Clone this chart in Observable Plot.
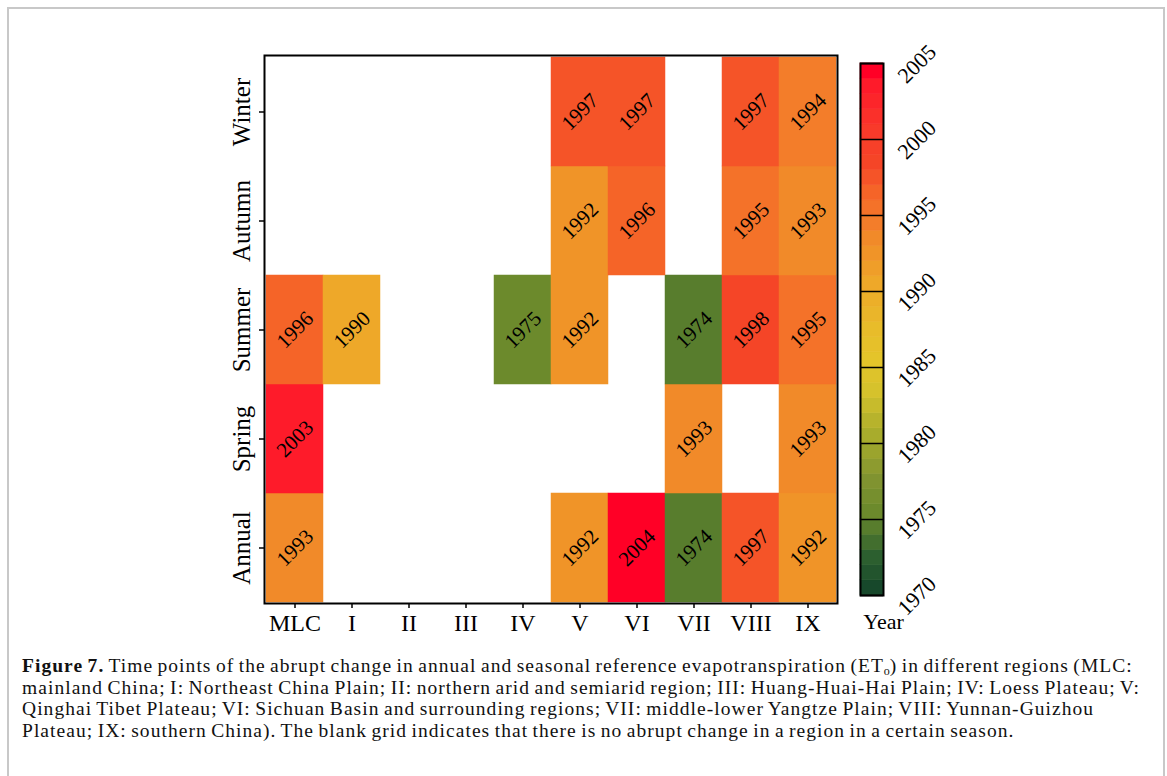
<!DOCTYPE html>
<html>
<head>
<meta charset="utf-8">
<script src="https://cdn.jsdelivr.net/npm/d3@7"></script>
<script src="https://cdn.jsdelivr.net/npm/@observablehq/plot@0.6"></script>
<style>
  html, body { margin: 0; padding: 0; background: #fff; }
  body { width: 1167px; height: 776px; position: relative; overflow: hidden; font-family: "Liberation Serif", serif; }
  #border { position: absolute; left: 7px; top: 7px; width: 1154px; height: 820px; border: 2px solid #c8c8c8; border-bottom: none; }
  #main { position: absolute; left: 0; top: 0; }
  #cbar { position: absolute; left: 840px; top: 0; }
  #caption { position: absolute; left: 22px; top: 655px; font-size: 19.5px; line-height: 21.7px; color: #111; white-space: nowrap; letter-spacing: 1.05px; word-spacing: -1.5px; }
  #caption sub { font-size: 12px; line-height: 0; vertical-align: -3px; letter-spacing: 0; }
</style>
</head>
<body>
<div id="border"></div>
<div id="main"></div>
<div id="cbar"></div>
<div id="caption"><b>Figure 7.</b> Time points of the abrupt change in annual and seasonal reference evapotranspiration (ET<sub>o</sub>) in different regions (MLC:<br>mainland China; I: Northeast China Plain; II: northern arid and semiarid region; III: Huang-Huai-Hai Plain; IV: Loess Plateau; V:<br>Qinghai Tibet Plateau; VI: Sichuan Basin and surrounding regions; VII: middle-lower Yangtze Plain; VIII: Yunnan-Guizhou<br>Plateau; IX: southern China). The blank grid indicates that there is no abrupt change in a region in a certain season.</div>
<script>
// ---- data ----
const regions = ["MLC", "I", "II", "III", "IV", "V", "VI", "VII", "VIII", "IX"];
const seasons = ["Annual", "Spring", "Summer", "Autumn", "Winter"];
const annual = [1993, null, null, null, null, 1992, 2004, 1974, 1997, 1992];
const spring = [2003, null, null, null, null, null, null, 1993, null, 1993];
const summer = [1996, 1990, null, null, 1975, 1992, null, 1974, 1998, 1995];
const autumn = [null, null, null, null, null, 1992, 1996, null, 1995, 1993];
const winter = [null, null, null, null, null, 1997, 1997, null, 1997, 1994];
const colorbarTicks = [1970, 1975, 1980, 1985, 1990, 1995, 2000, 2005];
// colormap stops (year -> colour)
const colorStops = [1970, 1972, 1974, 1975, 1977, 1980, 1983, 1985, 1987, 1990, 1992, 1993, 1994, 1995, 1996, 1997, 1998, 2000, 2003, 2004];
const colorRange = ["#17482b", "#2c5f2f", "#587d2d", "#6c8a2c", "#809330", "#a8ac2c", "#d6c22c", "#e4c42a", "#e8bc2a", "#eea829", "#f09428", "#f18a29", "#f37d2a", "#f47229", "#f56428", "#f55428", "#f54527", "#f83a2a", "#fe1b2a", "#ff0026"];

const seriesBySeason = {Annual: annual, Spring: spring, Summer: summer, Autumn: autumn, Winter: winter};
const cells = [];
for (const s of seasons) {
  seriesBySeason[s].forEach((v, i) => { if (v != null) cells.push({region: regions[i], season: s, year: v}); });
}
const colorOpts = {type: "linear", domain: colorStops, range: colorRange, interpolate: "rgb", clamp: true};

const font = "'Liberation Serif', 'Times New Roman', serif";

const main = Plot.plot({
  width: 900,
  height: 643,
  marginLeft: 264,
  marginRight: 63,
  marginTop: 55,
  marginBottom: 40,
  style: {fontFamily: font, fontSize: "24px", color: "#000", background: "transparent"},
  x: {type: "band", domain: regions, padding: 0, label: null},
  y: {type: "band", domain: seasons.slice().reverse(), padding: 0, label: null},
  color: colorOpts,
  marks: [
    Plot.cell(cells, {x: "region", y: "season", fill: "year", stroke: "year", strokeWidth: 0.5, inset: 0}),
    Plot.text(cells, {x: "region", y: "season", text: d => String(d.year), rotate: -45, fontSize: 21, fill: "#000", fontFamily: font}),
    Plot.axisX({anchor: "bottom", tickSize: 5, tickPadding: 5, fontSize: 24, stroke: "#000", strokeWidth: 1.5}),
    Plot.axisY({anchor: "left", tickSize: 5, tickPadding: 10, tickRotate: -90, fontSize: 25, stroke: "#000", strokeWidth: 1.5}),
    Plot.frame({stroke: "#000", strokeWidth: 2})
  ]
});
document.getElementById("main").appendChild(main);

const years = d3.range(1970, 2005);
const cbar = Plot.plot({
  width: 140,
  height: 640,
  marginLeft: 20,
  marginRight: 97,
  marginTop: 63,
  marginBottom: 45,
  style: {fontFamily: font, fontSize: "22px", color: "#000", background: "transparent"},
  x: {domain: [0, 1], axis: null},
  y: {domain: [1970, 2005], axis: null},
  color: colorOpts,
  marks: [
    Plot.rect(years, {x1: 0, x2: 1, y1: d => d, y2: d => d + 1, fill: d => d, stroke: d => d, strokeWidth: 0.6}),
    Plot.tickY(colorbarTicks, {y: d => d, x1: 1, x2: 1.26, stroke: "#000", strokeWidth: 1.5}),
    Plot.text(colorbarTicks, {y: d => d, x: 1, text: d => String(d), rotate: -45, textAnchor: "start", dx: 18, dy: 16, fontSize: 22, fill: "#000", fontFamily: font}),
    Plot.text(["Year"], {x: 1, y: 1970, text: d => d, dy: 26, fontSize: 22, fill: "#000", fontFamily: font}),
    Plot.frame({stroke: "#000", strokeWidth: 2})
  ]
});
document.getElementById("cbar").appendChild(cbar);
</script>
</body>
</html>
